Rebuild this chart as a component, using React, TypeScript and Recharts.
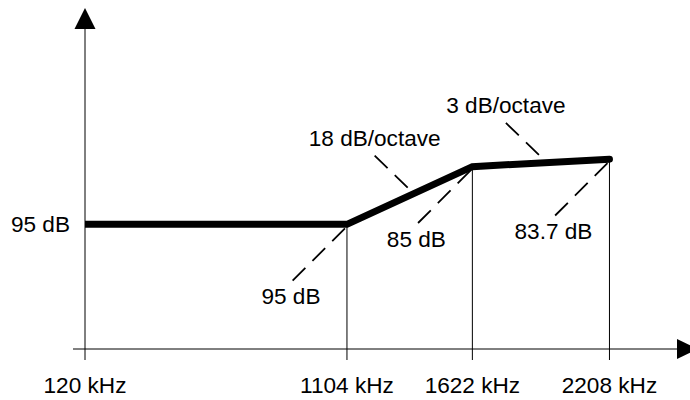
import React from "react";
import { LineChart, Line, XAxis, YAxis, ReferenceLine, ReferenceDot } from "recharts";

// breakpoints of the mask
const freqs = [120, 1104, 1622, 2208]; // kHz
const levels = [95, 95, 85, 83.7]; // dB
const freqLabels = ["120 kHz", "1104 kHz", "1622 kHz", "2208 kHz"];
const levelLabels = ["", "95 dB", "85 dB", "83.7 dB"];
const slopeLabels = ["", "18 dB/octave", "3 dB/octave"]; // segment i -> i+1
const levelTicks = [95];

const data = freqs.map((f, i) => ({ freq: f, level: levels[i] }));

const FONT = "'Liberation Sans', Arial, Helvetica, sans-serif";
const FONT_SIZE = 22.6;
const INK = "#000";
const DASH = "18 10";

// the drawing is not to scale, a mild power scale sits closest to it
function powScale(exponent: number) {
  let dom = [0, 1];
  let rng = [0, 1];
  const t = (v: number) => Math.sign(v) * Math.pow(Math.abs(v), exponent);
  const s: any = (v: number) => {
    const a = t(dom[0]);
    const b = t(dom[dom.length - 1]);
    return rng[0] + ((t(v) - a) / (b - a)) * (rng[rng.length - 1] - rng[0]);
  };
  s.domain = (d?: number[]) => {
    if (d === undefined) return dom.slice();
    dom = Array.from(d, Number);
    return s;
  };
  s.range = (r?: number[]) => {
    if (r === undefined) return rng.slice();
    rng = Array.from(r, Number);
    return s;
  };
  s.invert = (px: number) => {
    const a = t(dom[0]);
    const b = t(dom[dom.length - 1]);
    const u = a + ((px - rng[0]) / (rng[rng.length - 1] - rng[0])) * (b - a);
    return Math.sign(u) * Math.pow(Math.abs(u), 1 / exponent);
  };
  s.ticks = (n = 10) => {
    const out: number[] = [];
    for (let i = 0; i <= n; i++) out.push(dom[0] + ((dom[dom.length - 1] - dom[0]) * i) / n);
    return out;
  };
  s.tickFormat = () => (v: number) => String(v);
  s.nice = () => s;
  s.clamp = () => s;
  s.copy = () => powScale(exponent).domain(dom).range(rng);
  return s;
}

const xScale = powScale(0.9);

const YArrow = (p: any) => {
  const x = p.x1;
  const top = Math.min(p.y1, p.y2);
  const bottom = Math.max(p.y1, p.y2);
  return (
    <g>
      <line x1={x} y1={bottom} x2={x} y2={top + 10} stroke={INK} strokeWidth={1} />
      <polygon points={`${x},${top} ${x - 10.5},${top + 21} ${x + 10.5},${top + 21}`} fill={INK} />
    </g>
  );
};

const XArrow = (p: any) => {
  const y = p.y1;
  const left = Math.min(p.x1, p.x2);
  const right = Math.max(p.x1, p.x2);
  return (
    <g>
      <line x1={left} y1={y} x2={right - 10} y2={y} stroke={INK} strokeWidth={1} />
      <polygon points={`${right + 8},${y} ${right - 13},${y - 10} ${right - 13},${y + 10}`} fill={INK} />
    </g>
  );
};

const pointLabel = (label: string) => (p: any) => (
  <g>
    <line
      x1={p.cx - 2}
      y1={p.cy + 4}
      x2={p.cx - 55}
      y2={p.cy + 57}
      stroke={INK}
      strokeWidth={1.8}
      strokeDasharray={DASH}
    />
    <text x={p.cx - 56} y={p.cy + 80} textAnchor="middle" fill={INK} fontSize={FONT_SIZE} fontFamily={FONT}>
      {label}
    </text>
  </g>
);

const slopeLabel = (label: string) => (p: any) => {
  const mx = (p.x1 + p.x2) / 2;
  const my = (p.y1 + p.y2) / 2;
  return (
    <g>
      <line
        x1={mx - 35}
        y1={my - 40}
        x2={mx - 1}
        y2={my - 7}
        stroke={INK}
        strokeWidth={1.8}
        strokeDasharray={DASH}
      />
      <text x={mx - 35} y={my - 50} textAnchor="middle" fill={INK} fontSize={FONT_SIZE} fontFamily={FONT}>
        {label}
      </text>
    </g>
  );
};

export default function App() {
  const yBottom = 116.6;
  return (
    <div style={{ position: "absolute", left: 0, top: 0, width: 690, height: 400, background: "#fff" }}>
      <LineChart width={690} height={400} data={data} margin={{ top: 8, right: 0, bottom: 0, left: 0 }}>
        <XAxis
          dataKey="freq"
          type="number"
          scale={xScale}
          domain={[120, 2560]}
          allowDataOverflow
          ticks={freqs}
          interval={0}
          padding={{ left: 12, right: 0 }}
          height={51}
          axisLine={false}
          tickLine={{ stroke: INK, strokeWidth: 1 }}
          tickSize={11}
          tickMargin={17}
          tick={{ fill: INK, fontSize: FONT_SIZE, fontFamily: FONT }}
          tickFormatter={(v: number) => freqLabels[freqs.indexOf(v)] ?? ""}
        />
        <YAxis
          type="number"
          reversed
          domain={[57.5, yBottom]}
          allowDataOverflow
          ticks={levelTicks}
          width={73}
          axisLine={false}
          tickLine={false}
          tickSize={0}
          tickMargin={3}
          tick={{ fill: INK, fontSize: FONT_SIZE, fontFamily: FONT }}
          tickFormatter={(v: number) => `${v} dB`}
        />
        <ReferenceLine x={freqs[0]} shape={YArrow} />
        <ReferenceLine y={yBottom} shape={XArrow} />
        {freqs.slice(1).map((f, i) => (
          <ReferenceLine
            key={`drop-${f}`}
            segment={[
              { x: f, y: levels[i + 1] },
              { x: f, y: yBottom },
            ]}
            stroke={INK}
            strokeWidth={1}
          />
        ))}
        <Line
          type="linear"
          dataKey="level"
          stroke={INK}
          strokeWidth={7}
          strokeLinecap="round"
          strokeLinejoin="miter"
          dot={false}
          isAnimationActive={false}
        />
        {freqs.slice(0, -1).map((f, i) =>
          slopeLabels[i] ? (
            <ReferenceLine
              key={`slope-${f}`}
              segment={[
                { x: f, y: levels[i] },
                { x: freqs[i + 1], y: levels[i + 1] },
              ]}
              shape={slopeLabel(slopeLabels[i])}
            />
          ) : null
        )}
        {freqs.map((f, i) =>
          levelLabels[i] ? (
            <ReferenceDot key={`pt-${f}`} x={f} y={levels[i]} r={0} shape={pointLabel(levelLabels[i])} />
          ) : null
        )}
      </LineChart>
    </div>
  );
}
